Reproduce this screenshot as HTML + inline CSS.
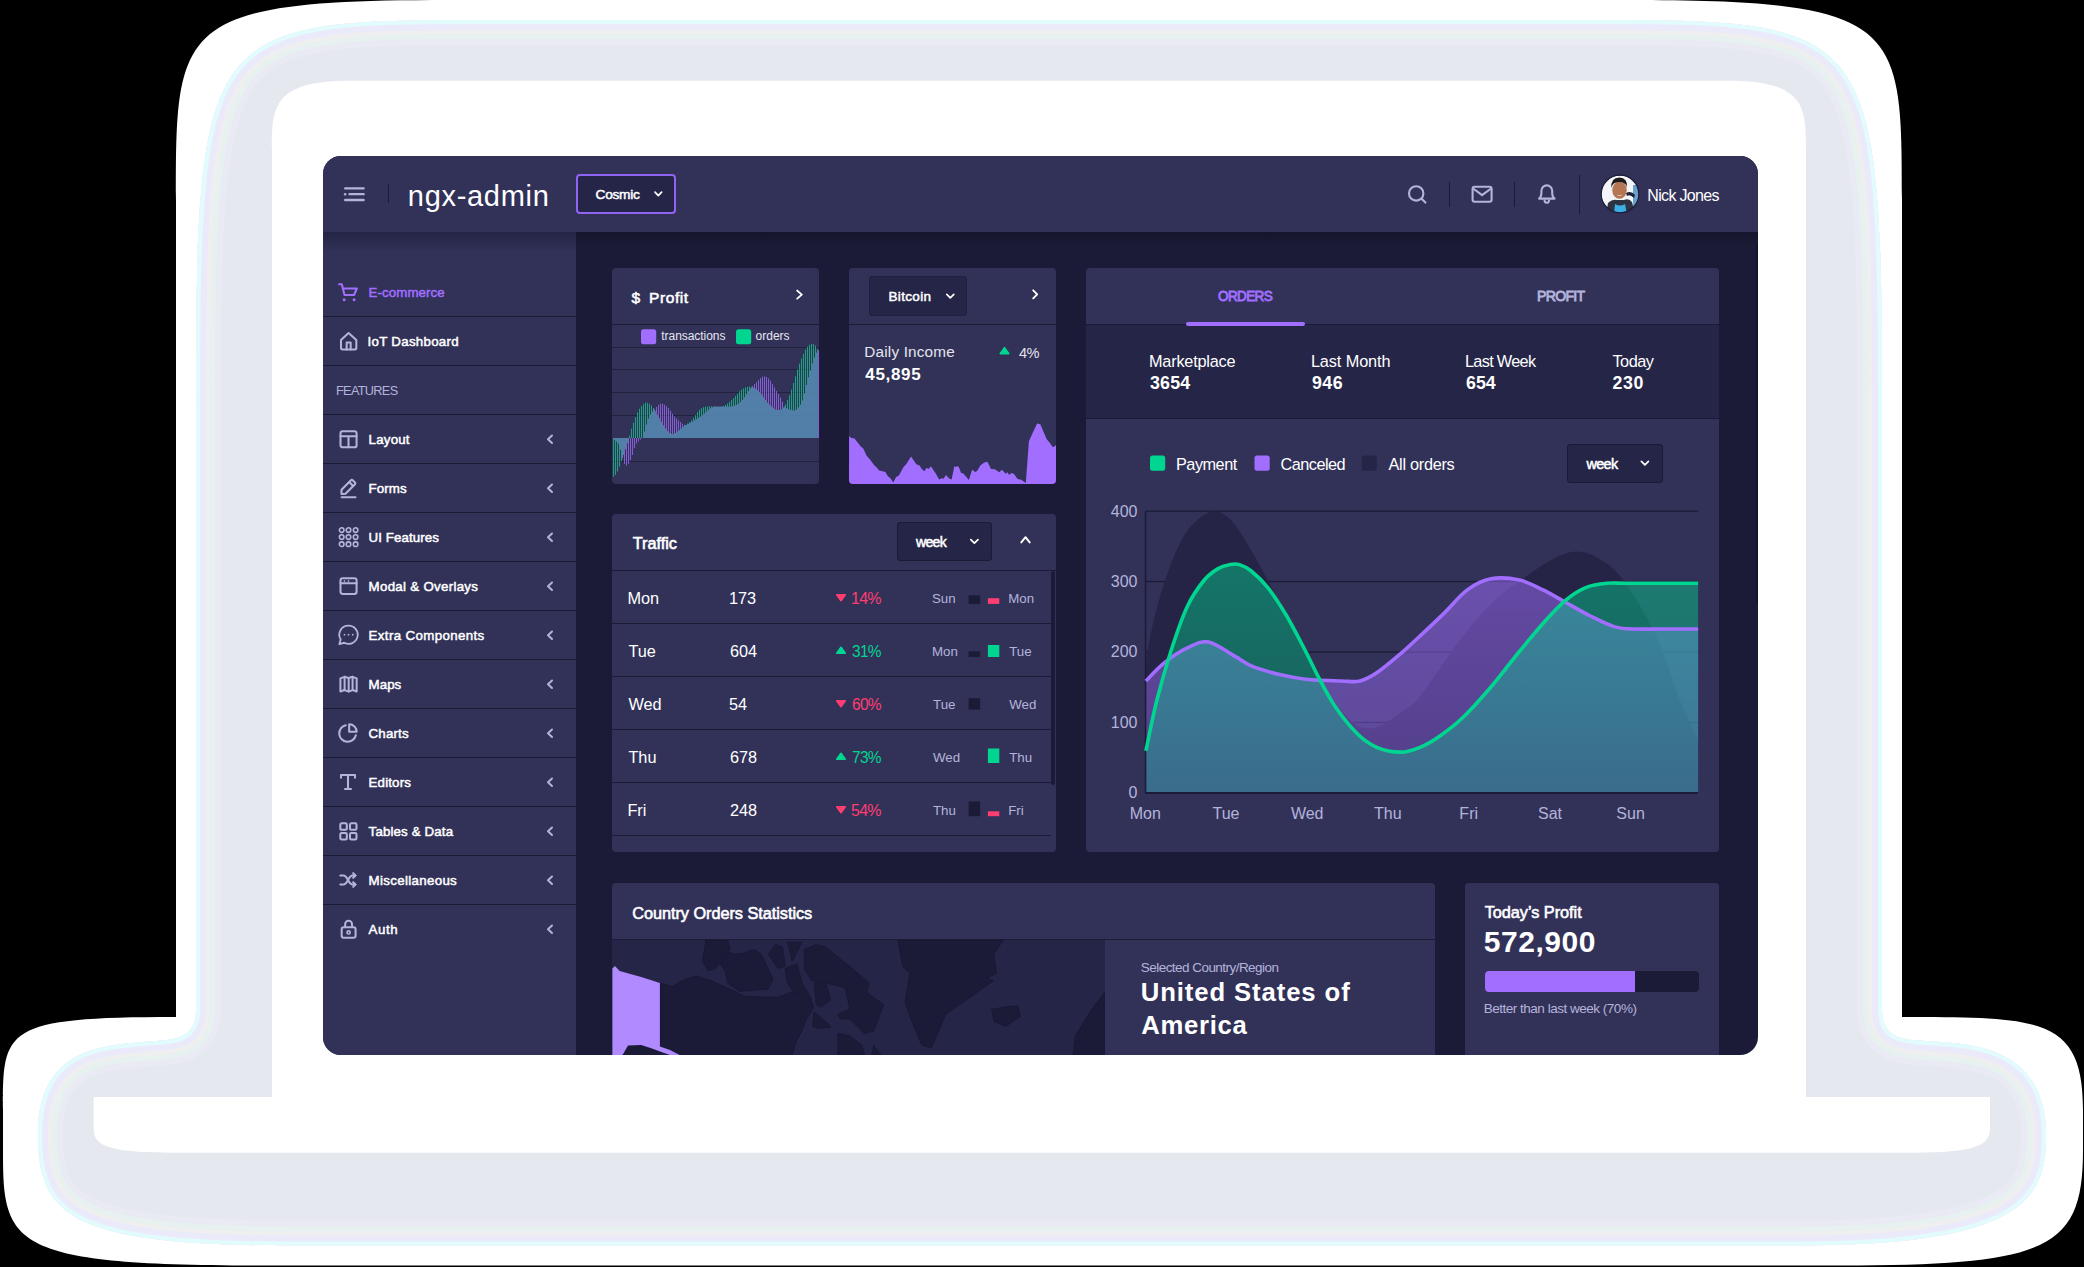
<!DOCTYPE html><html><head><meta charset="utf-8"><style>
html,body{margin:0;padding:0;width:2084px;height:1267px;overflow:hidden;background:#000;}
body{position:relative;font-family:"Liberation Sans",sans-serif;}
#scr{position:absolute;left:0;top:0;width:2084px;height:1267px;clip-path:inset(156px 326px 212px 323px round 18px);background:#1b1b38;}
#scr div,#scr span,#scr svg{position:absolute;}
.t{white-space:nowrap;line-height:1;}
</style></head><body>
<svg width="2084" height="1267" viewBox="0 0 2084 1267" style="position:absolute;left:0;top:0">
<defs><clipPath id="gc"><path d="M 196 1017 L 196 420 C 196 28 201.7 20 480 20 L 1598.0 20 C 1876.3 20 1882 28 1882 420 L 1882 1010 C 1882 1041 1909.2 1039.7 1925 1041 C 1962 1044 2046 1041 2046 1135 C 2046 1193.5 2031.2 1245.4 1800 1245.4 L 290 1245.4 C 73.3 1245.4 38 1216.7 38 1135 C 38 1047.1 102.5 1045.3 150 1041.5 C 174.6 1039.5 196 1039.3 196 1010 Z"/></clipPath></defs>
<path d="M 176 1017 L 176 200 C 176 24 176 0 450 0 L 1628.0 0 C 1902.0 0 1902 24 1902 200 L 1902 1017 C 2040 1017 2083 1017 2083 1110 L 2083 1150 C 2083 1249.3 2049 1265.5 1840 1265.5 L 260 1265.5 C 8.1 1265.5 3 1243.6 3 1150 L 3 1110 C 3 1029.1 3 1017 176 1017 Z" fill="#fff"/>
<g clip-path="url(#gc)"><path d="M 196 1017 L 196 420 C 196 28 201.7 20 480 20 L 1598.0 20 C 1876.3 20 1882 28 1882 420 L 1882 1010 C 1882 1041 1909.2 1039.7 1925 1041 C 1962 1044 2046 1041 2046 1135 C 2046 1193.5 2031.2 1245.4 1800 1245.4 L 290 1245.4 C 73.3 1245.4 38 1216.7 38 1135 C 38 1047.1 102.5 1045.3 150 1041.5 C 174.6 1039.5 196 1039.3 196 1010 Z" fill="#e5e8ef"/>
<path d="M 196 1017 L 196 420 C 196 28 201.7 20 480 20 L 1598.0 20 C 1876.3 20 1882 28 1882 420 L 1882 1010 C 1882 1041 1909.2 1039.7 1925 1041 C 1962 1044 2046 1041 2046 1135 C 2046 1193.5 2031.2 1245.4 1800 1245.4 L 290 1245.4 C 73.3 1245.4 38 1216.7 38 1135 C 38 1047.1 102.5 1045.3 150 1041.5 C 174.6 1039.5 196 1039.3 196 1010 Z" fill="none" stroke="#e9eaf3" stroke-width="50"/>
<path d="M 196 1017 L 196 420 C 196 28 201.7 20 480 20 L 1598.0 20 C 1876.3 20 1882 28 1882 420 L 1882 1010 C 1882 1041 1909.2 1039.7 1925 1041 C 1962 1044 2046 1041 2046 1135 C 2046 1193.5 2031.2 1245.4 1800 1245.4 L 290 1245.4 C 73.3 1245.4 38 1216.7 38 1135 C 38 1047.1 102.5 1045.3 150 1041.5 C 174.6 1039.5 196 1039.3 196 1010 Z" fill="none" stroke="#e6f1f0" stroke-width="38"/>
<path d="M 196 1017 L 196 420 C 196 28 201.7 20 480 20 L 1598.0 20 C 1876.3 20 1882 28 1882 420 L 1882 1010 C 1882 1041 1909.2 1039.7 1925 1041 C 1962 1044 2046 1041 2046 1135 C 2046 1193.5 2031.2 1245.4 1800 1245.4 L 290 1245.4 C 73.3 1245.4 38 1216.7 38 1135 C 38 1047.1 102.5 1045.3 150 1041.5 C 174.6 1039.5 196 1039.3 196 1010 Z" fill="none" stroke="#efefef" stroke-width="28"/>
<path d="M 196 1017 L 196 420 C 196 28 201.7 20 480 20 L 1598.0 20 C 1876.3 20 1882 28 1882 420 L 1882 1010 C 1882 1041 1909.2 1039.7 1925 1041 C 1962 1044 2046 1041 2046 1135 C 2046 1193.5 2031.2 1245.4 1800 1245.4 L 290 1245.4 C 73.3 1245.4 38 1216.7 38 1135 C 38 1047.1 102.5 1045.3 150 1041.5 C 174.6 1039.5 196 1039.3 196 1010 Z" fill="none" stroke="#ebeafb" stroke-width="20"/>
<path d="M 196 1017 L 196 420 C 196 28 201.7 20 480 20 L 1598.0 20 C 1876.3 20 1882 28 1882 420 L 1882 1010 C 1882 1041 1909.2 1039.7 1925 1041 C 1962 1044 2046 1041 2046 1135 C 2046 1193.5 2031.2 1245.4 1800 1245.4 L 290 1245.4 C 73.3 1245.4 38 1216.7 38 1135 C 38 1047.1 102.5 1045.3 150 1041.5 C 174.6 1039.5 196 1039.3 196 1010 Z" fill="none" stroke="#e2fcfd" stroke-width="8"/>
</g>
<path d="M 272 1097 L 272 150 C 272 107.1 272.8 80.8 350 80.8 L 1728.0 80.8 C 1805.2 80.8 1806 107.1 1806 150 L 1806 1097 L 1990 1097 L 1990 1128 C 1990 1146 1975 1152.7 1910 1152.7 L 175 1152.7 C 108 1152.7 93.7 1146 93.7 1128 L 93.7 1097 Z" fill="#fff"/>
</svg>
<div id="scr">
<div style="left:323.0px;top:156.0px;width:1435.0px;height:76.0px;background:#323259;"></div>
<div style="left:323.0px;top:232.0px;width:253.0px;height:823.0px;background:#323259;"></div>
<div style="left:323.0px;top:232.0px;width:253.0px;height:20.0px;background:linear-gradient(#1f1f3f,rgba(50,50,89,0));opacity:0.75;"></div>
<div style="left:576.0px;top:232.0px;width:1182.0px;height:15.0px;background:linear-gradient(rgba(16,16,36,0.55),rgba(27,27,56,0));"></div>
<div style="left:1755.8px;top:244.0px;width:2.2px;height:360.0px;background:#14142c;border-radius:1px;"></div>
<div style="left:323.0px;top:316.0px;width:253.0px;height:1.3px;background:#1b1b38;"></div>
<div style="left:323.0px;top:365.0px;width:253.0px;height:1.3px;background:#1b1b38;"></div>
<div style="left:323.0px;top:414.0px;width:253.0px;height:1.3px;background:#1b1b38;"></div>
<div style="left:323.0px;top:463.0px;width:253.0px;height:1.3px;background:#1b1b38;"></div>
<div style="left:323.0px;top:512.0px;width:253.0px;height:1.3px;background:#1b1b38;"></div>
<div style="left:323.0px;top:561.0px;width:253.0px;height:1.3px;background:#1b1b38;"></div>
<div style="left:323.0px;top:610.0px;width:253.0px;height:1.3px;background:#1b1b38;"></div>
<div style="left:323.0px;top:659.0px;width:253.0px;height:1.3px;background:#1b1b38;"></div>
<div style="left:323.0px;top:708.0px;width:253.0px;height:1.3px;background:#1b1b38;"></div>
<div style="left:323.0px;top:757.0px;width:253.0px;height:1.3px;background:#1b1b38;"></div>
<div style="left:323.0px;top:806.0px;width:253.0px;height:1.3px;background:#1b1b38;"></div>
<div style="left:323.0px;top:855.0px;width:253.0px;height:1.3px;background:#1b1b38;"></div>
<div style="left:323.0px;top:904.0px;width:253.0px;height:1.3px;background:#1b1b38;"></div>
<div style="left:388.2px;top:184.0px;width:1.2px;height:19.0px;background:#1b1b38;"></div>
<div style="left:1449.0px;top:181.5px;width:1.2px;height:25.0px;background:#1b1b38;"></div>
<div style="left:1514.0px;top:181.5px;width:1.2px;height:25.0px;background:#1b1b38;"></div>
<div style="left:1579.0px;top:174.5px;width:1.2px;height:39.0px;background:#1b1b38;"></div>
<div style="left:576px;top:174px;width:96px;height:36px;border:2px solid #8f64f5;border-radius:4px;background:#252547;"></div>
<div style="left:612.0px;top:268.0px;width:207.0px;height:216.0px;background:#323259;border-radius:4px;"></div>
<div style="left:849.0px;top:268.0px;width:207.0px;height:216.0px;background:#323259;border-radius:4px;"></div>
<div style="left:1086.0px;top:268.0px;width:633.0px;height:584.0px;background:#323259;border-radius:4px;"></div>
<div style="left:612.0px;top:514.0px;width:444.0px;height:338.0px;background:#323259;border-radius:4px;"></div>
<div style="left:612.0px;top:883.0px;width:823.0px;height:197.0px;background:#323259;border-radius:4px;"></div>
<div style="left:1465.0px;top:883.0px;width:254.0px;height:197.0px;background:#323259;border-radius:4px;"></div>
<div style="left:612.0px;top:324.2px;width:207.0px;height:1.3px;background:#1b1b38;"></div>
<div style="left:849.0px;top:324.2px;width:207.0px;height:1.3px;background:#1b1b38;"></div>
<div style="left:612.0px;top:570.0px;width:444.0px;height:1.3px;background:#1b1b38;"></div>
<div style="left:612.0px;top:938.7px;width:823.0px;height:1.3px;background:#1b1b38;"></div>
<div style="left:1086.0px;top:325.0px;width:633.0px;height:93.0px;background:#252547;"></div>
<div style="left:1086.0px;top:417.5px;width:633.0px;height:1.5px;background:#1b1b38;"></div>
<div style="left:1086.0px;top:324.3px;width:633.0px;height:1.2px;background:#1b1b38;"></div>
<div style="left:1186.0px;top:321.5px;width:119.0px;height:4.5px;background:#a16eff;border-radius:2px;"></div>
<div style="left:869.0px;top:276.0px;width:98.0px;height:40.0px;background:#252547;border-radius:4px;box-shadow:inset 0 0 0 1px #1f1f3e;"></div>
<div style="left:1567.0px;top:443.5px;width:96.0px;height:39.5px;background:#252547;border-radius:4px;box-shadow:inset 0 0 0 1px #1b1b38;"></div>
<div style="left:896.5px;top:522.0px;width:95.0px;height:39.3px;background:#252547;border-radius:4px;box-shadow:inset 0 0 0 1px #1b1b38;"></div>
<div style="left:612.0px;top:622.7px;width:439.0px;height:1.3px;background:#1b1b38;"></div>
<div style="left:612.0px;top:675.7px;width:439.0px;height:1.3px;background:#1b1b38;"></div>
<div style="left:612.0px;top:728.7px;width:439.0px;height:1.3px;background:#1b1b38;"></div>
<div style="left:612.0px;top:781.7px;width:439.0px;height:1.3px;background:#1b1b38;"></div>
<div style="left:612.0px;top:834.7px;width:439.0px;height:1.3px;background:#1b1b38;"></div>
<div style="left:1051.3px;top:571.0px;width:4.2px;height:214.0px;background:#1b1b38;border-radius:2px;"></div>
<div style="left:612.0px;top:940.0px;width:493.0px;height:115.0px;background:#252547;"></div>
<div style="left:1485.0px;top:970.7px;width:213.5px;height:21.8px;background:#1b1b38;border-radius:4px;"></div>
<div style="left:1485.0px;top:970.7px;width:149.5px;height:21.8px;background:#a16eff;border-radius:4px 0 0 4px;"></div>
<svg style="left:0;top:0" width="2084" height="1267"><rect x="612" y="347.0" width="207" height="1" fill="#22223f"/><rect x="612" y="369.0" width="207" height="1" fill="#22223f"/><rect x="612" y="392.0" width="207" height="1" fill="#22223f"/><rect x="612" y="415.0" width="207" height="1" fill="#22223f"/><rect x="612" y="461.0" width="207" height="1" fill="#22223f"/></svg>
<svg style="left:0;top:0" width="2084" height="1267"><g opacity="0.85"><rect x="613" y="438.0" width="1.05" height="38.7" fill="#1fb488"/><rect x="614" y="438.0" width="1.05" height="1.8" fill="#9066e6"/><rect x="615" y="438.0" width="1.05" height="36.7" fill="#1fb488"/><rect x="616" y="438.0" width="1.05" height="3.4" fill="#9066e6"/><rect x="617" y="438.0" width="1.05" height="33.5" fill="#1fb488"/><rect x="618" y="438.0" width="1.05" height="5.7" fill="#9066e6"/><rect x="619" y="438.0" width="1.05" height="28.8" fill="#1fb488"/><rect x="620" y="438.0" width="1.05" height="11.7" fill="#9066e6"/><rect x="621" y="438.0" width="1.05" height="23.2" fill="#1fb488"/><rect x="622" y="438.0" width="1.05" height="20.2" fill="#9066e6"/><rect x="623" y="438.0" width="1.05" height="17.0" fill="#1fb488"/><rect x="624" y="438.0" width="1.05" height="25.9" fill="#9066e6"/><rect x="625" y="438.0" width="1.05" height="11.1" fill="#1fb488"/><rect x="626" y="438.0" width="1.05" height="27.6" fill="#9066e6"/><rect x="627" y="438.0" width="1.05" height="5.1" fill="#1fb488"/><rect x="628" y="438.0" width="1.05" height="25.8" fill="#9066e6"/><rect x="629" y="435.6" width="1.05" height="2.4" fill="#1fb488"/><rect x="630" y="438.0" width="1.05" height="22.1" fill="#9066e6"/><rect x="631" y="428.7" width="1.05" height="9.3" fill="#1fb488"/><rect x="632" y="438.0" width="1.05" height="16.9" fill="#9066e6"/><rect x="633" y="422.7" width="1.05" height="15.3" fill="#1fb488"/><rect x="634" y="438.0" width="1.05" height="10.2" fill="#9066e6"/><rect x="635" y="417.3" width="1.05" height="20.7" fill="#1fb488"/><rect x="636" y="438.0" width="1.05" height="5.6" fill="#9066e6"/><rect x="637" y="412.5" width="1.05" height="25.5" fill="#1fb488"/><rect x="638" y="438.0" width="1.05" height="3.4" fill="#9066e6"/><rect x="639" y="408.8" width="1.05" height="29.2" fill="#1fb488"/><rect x="640" y="438.0" width="1.05" height="1.6" fill="#9066e6"/><rect x="641" y="406.1" width="1.05" height="31.9" fill="#1fb488"/><rect x="642" y="437.7" width="1.05" height="0.3" fill="#9066e6"/><rect x="643" y="404.1" width="1.05" height="33.9" fill="#1fb488"/><rect x="644" y="431.6" width="1.05" height="6.4" fill="#9066e6"/><rect x="645" y="402.6" width="1.05" height="35.4" fill="#1fb488"/><rect x="646" y="424.6" width="1.05" height="13.4" fill="#9066e6"/><rect x="647" y="402.7" width="1.05" height="35.3" fill="#1fb488"/><rect x="648" y="418.6" width="1.05" height="19.4" fill="#9066e6"/><rect x="649" y="403.7" width="1.05" height="34.3" fill="#1fb488"/><rect x="650" y="414.5" width="1.05" height="23.5" fill="#9066e6"/><rect x="651" y="405.5" width="1.05" height="32.5" fill="#1fb488"/><rect x="652" y="411.6" width="1.05" height="26.4" fill="#9066e6"/><rect x="653" y="408.1" width="1.05" height="29.9" fill="#1fb488"/><rect x="654" y="409.2" width="1.05" height="28.8" fill="#9066e6"/><rect x="655" y="411.3" width="1.05" height="26.7" fill="#1fb488"/><rect x="656" y="407.0" width="1.05" height="31.0" fill="#9066e6"/><rect x="657" y="414.8" width="1.05" height="23.2" fill="#1fb488"/><rect x="658" y="404.8" width="1.05" height="33.2" fill="#9066e6"/><rect x="659" y="418.4" width="1.05" height="19.6" fill="#1fb488"/><rect x="660" y="403.7" width="1.05" height="34.3" fill="#9066e6"/><rect x="661" y="421.9" width="1.05" height="16.1" fill="#1fb488"/><rect x="662" y="403.8" width="1.05" height="34.2" fill="#9066e6"/><rect x="663" y="425.3" width="1.05" height="12.7" fill="#1fb488"/><rect x="664" y="404.7" width="1.05" height="33.3" fill="#9066e6"/><rect x="665" y="428.4" width="1.05" height="9.6" fill="#1fb488"/><rect x="666" y="406.2" width="1.05" height="31.8" fill="#9066e6"/><rect x="667" y="430.9" width="1.05" height="7.1" fill="#1fb488"/><rect x="668" y="408.1" width="1.05" height="29.9" fill="#9066e6"/><rect x="669" y="432.8" width="1.05" height="5.2" fill="#1fb488"/><rect x="670" y="410.8" width="1.05" height="27.2" fill="#9066e6"/><rect x="671" y="433.8" width="1.05" height="4.2" fill="#1fb488"/><rect x="672" y="413.8" width="1.05" height="24.2" fill="#9066e6"/><rect x="673" y="433.9" width="1.05" height="4.1" fill="#1fb488"/><rect x="674" y="416.4" width="1.05" height="21.6" fill="#9066e6"/><rect x="675" y="433.0" width="1.05" height="5.0" fill="#1fb488"/><rect x="676" y="418.5" width="1.05" height="19.5" fill="#9066e6"/><rect x="677" y="431.5" width="1.05" height="6.5" fill="#1fb488"/><rect x="678" y="420.3" width="1.05" height="17.7" fill="#9066e6"/><rect x="679" y="430.1" width="1.05" height="7.9" fill="#1fb488"/><rect x="680" y="422.0" width="1.05" height="16.0" fill="#9066e6"/><rect x="681" y="428.5" width="1.05" height="9.5" fill="#1fb488"/><rect x="682" y="423.7" width="1.05" height="14.3" fill="#9066e6"/><rect x="683" y="426.7" width="1.05" height="11.3" fill="#1fb488"/><rect x="684" y="424.9" width="1.05" height="13.1" fill="#9066e6"/><rect x="685" y="425.0" width="1.05" height="13.0" fill="#1fb488"/><rect x="686" y="424.8" width="1.05" height="13.2" fill="#9066e6"/><rect x="687" y="423.5" width="1.05" height="14.5" fill="#1fb488"/><rect x="688" y="423.9" width="1.05" height="14.1" fill="#9066e6"/><rect x="689" y="422.0" width="1.05" height="16.0" fill="#1fb488"/><rect x="690" y="422.7" width="1.05" height="15.3" fill="#9066e6"/><rect x="691" y="420.2" width="1.05" height="17.8" fill="#1fb488"/><rect x="692" y="421.6" width="1.05" height="16.4" fill="#9066e6"/><rect x="693" y="417.9" width="1.05" height="20.1" fill="#1fb488"/><rect x="694" y="420.4" width="1.05" height="17.6" fill="#9066e6"/><rect x="695" y="415.1" width="1.05" height="22.9" fill="#1fb488"/><rect x="696" y="419.2" width="1.05" height="18.8" fill="#9066e6"/><rect x="697" y="412.3" width="1.05" height="25.7" fill="#1fb488"/><rect x="698" y="418.0" width="1.05" height="20.0" fill="#9066e6"/><rect x="699" y="409.8" width="1.05" height="28.2" fill="#1fb488"/><rect x="700" y="416.6" width="1.05" height="21.4" fill="#9066e6"/><rect x="701" y="408.1" width="1.05" height="29.9" fill="#1fb488"/><rect x="702" y="415.0" width="1.05" height="23.0" fill="#9066e6"/><rect x="703" y="407.2" width="1.05" height="30.8" fill="#1fb488"/><rect x="704" y="413.3" width="1.05" height="24.7" fill="#9066e6"/><rect x="705" y="406.7" width="1.05" height="31.3" fill="#1fb488"/><rect x="706" y="411.5" width="1.05" height="26.5" fill="#9066e6"/><rect x="707" y="406.5" width="1.05" height="31.5" fill="#1fb488"/><rect x="708" y="409.8" width="1.05" height="28.2" fill="#9066e6"/><rect x="709" y="406.3" width="1.05" height="31.7" fill="#1fb488"/><rect x="710" y="408.3" width="1.05" height="29.7" fill="#9066e6"/><rect x="711" y="406.2" width="1.05" height="31.8" fill="#1fb488"/><rect x="712" y="407.2" width="1.05" height="30.8" fill="#9066e6"/><rect x="713" y="406.5" width="1.05" height="31.5" fill="#1fb488"/><rect x="714" y="406.5" width="1.05" height="31.5" fill="#9066e6"/><rect x="715" y="406.6" width="1.05" height="31.4" fill="#1fb488"/><rect x="716" y="406.4" width="1.05" height="31.6" fill="#9066e6"/><rect x="717" y="406.6" width="1.05" height="31.4" fill="#1fb488"/><rect x="718" y="406.5" width="1.05" height="31.5" fill="#9066e6"/><rect x="719" y="406.6" width="1.05" height="31.4" fill="#1fb488"/><rect x="720" y="406.5" width="1.05" height="31.5" fill="#9066e6"/><rect x="721" y="406.4" width="1.05" height="31.6" fill="#1fb488"/><rect x="722" y="406.5" width="1.05" height="31.5" fill="#9066e6"/><rect x="723" y="406.0" width="1.05" height="32.0" fill="#1fb488"/><rect x="724" y="406.5" width="1.05" height="31.5" fill="#9066e6"/><rect x="725" y="405.0" width="1.05" height="33.0" fill="#1fb488"/><rect x="726" y="406.6" width="1.05" height="31.4" fill="#9066e6"/><rect x="727" y="403.6" width="1.05" height="34.4" fill="#1fb488"/><rect x="728" y="406.6" width="1.05" height="31.4" fill="#9066e6"/><rect x="729" y="401.9" width="1.05" height="36.1" fill="#1fb488"/><rect x="730" y="406.6" width="1.05" height="31.4" fill="#9066e6"/><rect x="731" y="400.1" width="1.05" height="37.9" fill="#1fb488"/><rect x="732" y="406.3" width="1.05" height="31.7" fill="#9066e6"/><rect x="733" y="398.2" width="1.05" height="39.8" fill="#1fb488"/><rect x="734" y="405.7" width="1.05" height="32.3" fill="#9066e6"/><rect x="735" y="396.0" width="1.05" height="42.0" fill="#1fb488"/><rect x="736" y="404.9" width="1.05" height="33.1" fill="#9066e6"/><rect x="737" y="393.7" width="1.05" height="44.3" fill="#1fb488"/><rect x="738" y="403.6" width="1.05" height="34.4" fill="#9066e6"/><rect x="739" y="391.4" width="1.05" height="46.6" fill="#1fb488"/><rect x="740" y="402.0" width="1.05" height="36.0" fill="#9066e6"/><rect x="741" y="389.7" width="1.05" height="48.3" fill="#1fb488"/><rect x="742" y="399.9" width="1.05" height="38.1" fill="#9066e6"/><rect x="743" y="388.4" width="1.05" height="49.6" fill="#1fb488"/><rect x="744" y="397.2" width="1.05" height="40.8" fill="#9066e6"/><rect x="745" y="387.4" width="1.05" height="50.6" fill="#1fb488"/><rect x="746" y="394.2" width="1.05" height="43.8" fill="#9066e6"/><rect x="747" y="386.8" width="1.05" height="51.2" fill="#1fb488"/><rect x="748" y="391.2" width="1.05" height="46.8" fill="#9066e6"/><rect x="749" y="386.6" width="1.05" height="51.4" fill="#1fb488"/><rect x="750" y="388.4" width="1.05" height="49.6" fill="#9066e6"/><rect x="751" y="386.8" width="1.05" height="51.2" fill="#1fb488"/><rect x="752" y="386.1" width="1.05" height="51.9" fill="#9066e6"/><rect x="753" y="387.6" width="1.05" height="50.4" fill="#1fb488"/><rect x="754" y="384.0" width="1.05" height="54.0" fill="#9066e6"/><rect x="755" y="388.7" width="1.05" height="49.3" fill="#1fb488"/><rect x="756" y="382.1" width="1.05" height="55.9" fill="#9066e6"/><rect x="757" y="390.2" width="1.05" height="47.8" fill="#1fb488"/><rect x="758" y="380.1" width="1.05" height="57.9" fill="#9066e6"/><rect x="759" y="392.0" width="1.05" height="46.0" fill="#1fb488"/><rect x="760" y="378.1" width="1.05" height="59.9" fill="#9066e6"/><rect x="761" y="394.4" width="1.05" height="43.6" fill="#1fb488"/><rect x="762" y="376.7" width="1.05" height="61.3" fill="#9066e6"/><rect x="763" y="397.3" width="1.05" height="40.7" fill="#1fb488"/><rect x="764" y="376.4" width="1.05" height="61.6" fill="#9066e6"/><rect x="765" y="400.1" width="1.05" height="37.9" fill="#1fb488"/><rect x="766" y="377.0" width="1.05" height="61.0" fill="#9066e6"/><rect x="767" y="402.6" width="1.05" height="35.4" fill="#1fb488"/><rect x="768" y="378.5" width="1.05" height="59.5" fill="#9066e6"/><rect x="769" y="404.6" width="1.05" height="33.4" fill="#1fb488"/><rect x="770" y="380.8" width="1.05" height="57.2" fill="#9066e6"/><rect x="771" y="406.5" width="1.05" height="31.5" fill="#1fb488"/><rect x="772" y="384.0" width="1.05" height="54.0" fill="#9066e6"/><rect x="773" y="408.2" width="1.05" height="29.8" fill="#1fb488"/><rect x="774" y="387.5" width="1.05" height="50.5" fill="#9066e6"/><rect x="775" y="409.4" width="1.05" height="28.6" fill="#1fb488"/><rect x="776" y="390.9" width="1.05" height="47.1" fill="#9066e6"/><rect x="777" y="410.0" width="1.05" height="28.0" fill="#1fb488"/><rect x="778" y="394.1" width="1.05" height="43.9" fill="#9066e6"/><rect x="779" y="410.1" width="1.05" height="27.9" fill="#1fb488"/><rect x="780" y="397.4" width="1.05" height="40.6" fill="#9066e6"/><rect x="781" y="409.3" width="1.05" height="28.7" fill="#1fb488"/><rect x="782" y="401.8" width="1.05" height="36.2" fill="#9066e6"/><rect x="783" y="407.6" width="1.05" height="30.4" fill="#1fb488"/><rect x="784" y="406.6" width="1.05" height="31.4" fill="#9066e6"/><rect x="785" y="404.4" width="1.05" height="33.6" fill="#1fb488"/><rect x="786" y="408.1" width="1.05" height="29.9" fill="#9066e6"/><rect x="787" y="400.1" width="1.05" height="37.9" fill="#1fb488"/><rect x="788" y="409.1" width="1.05" height="28.9" fill="#9066e6"/><rect x="789" y="395.3" width="1.05" height="42.7" fill="#1fb488"/><rect x="790" y="409.8" width="1.05" height="28.2" fill="#9066e6"/><rect x="791" y="389.6" width="1.05" height="48.4" fill="#1fb488"/><rect x="792" y="410.3" width="1.05" height="27.7" fill="#9066e6"/><rect x="793" y="383.0" width="1.05" height="55.0" fill="#1fb488"/><rect x="794" y="410.6" width="1.05" height="27.4" fill="#9066e6"/><rect x="795" y="376.3" width="1.05" height="61.7" fill="#1fb488"/><rect x="796" y="409.5" width="1.05" height="28.5" fill="#9066e6"/><rect x="797" y="369.5" width="1.05" height="68.5" fill="#1fb488"/><rect x="798" y="407.3" width="1.05" height="30.7" fill="#9066e6"/><rect x="799" y="363.7" width="1.05" height="74.3" fill="#1fb488"/><rect x="800" y="404.7" width="1.05" height="33.3" fill="#9066e6"/><rect x="801" y="358.6" width="1.05" height="79.4" fill="#1fb488"/><rect x="802" y="400.4" width="1.05" height="37.6" fill="#9066e6"/><rect x="803" y="353.9" width="1.05" height="84.1" fill="#1fb488"/><rect x="804" y="393.3" width="1.05" height="44.7" fill="#9066e6"/><rect x="805" y="349.8" width="1.05" height="88.2" fill="#1fb488"/><rect x="806" y="385.0" width="1.05" height="53.0" fill="#9066e6"/><rect x="807" y="346.8" width="1.05" height="91.2" fill="#1fb488"/><rect x="808" y="377.3" width="1.05" height="60.7" fill="#9066e6"/><rect x="809" y="344.9" width="1.05" height="93.1" fill="#1fb488"/><rect x="810" y="370.2" width="1.05" height="67.8" fill="#9066e6"/><rect x="811" y="344.0" width="1.05" height="94.0" fill="#1fb488"/><rect x="812" y="363.4" width="1.05" height="74.6" fill="#9066e6"/><rect x="813" y="344.1" width="1.05" height="93.9" fill="#1fb488"/><rect x="814" y="357.6" width="1.05" height="80.4" fill="#9066e6"/><rect x="815" y="345.6" width="1.05" height="92.4" fill="#1fb488"/><rect x="816" y="352.6" width="1.05" height="85.4" fill="#9066e6"/><rect x="817" y="349.3" width="1.05" height="88.7" fill="#1fb488"/><rect x="818" y="350.1" width="1.05" height="87.9" fill="#9066e6"/></g></svg>
<svg style="left:0;top:0" width="2084" height="1267"><defs><clipPath id="bcc"><rect x="849" y="268" width="207" height="216" rx="4"/></clipPath></defs><path d="M849 484 L849.1 435.9 L851.3 438.1 L854.5 438.4 L860.8 446.6 L863.3 448.5 L866.5 455.5 L870.3 459.9 L874.0 464.9 L877.2 468.1 L879.1 470.6 L883.5 471.6 L885.4 471.9 L887.9 476.3 L890.5 478.2 L893.3 482.6 L896.1 476.9 L898.7 475.7 L903.7 466.8 L906.2 464.3 L911.0 456.4 L916.3 464.3 L919.5 465.6 L922.0 469.3 L924.5 471.2 L926.4 468.1 L929.0 468.7 L930.9 466.2 L933.4 470.0 L935.9 473.8 L939.1 479.4 L941.6 478.2 L943.5 478.8 L946.0 475.0 L949.2 478.5 L951.6 479.4 L954.4 465.9 L955.7 467.1 L957.6 466.2 L958.8 467.1 L961.0 472.8 L963.6 473.8 L968.9 480.1 L972.1 469.7 L975.3 471.9 L977.1 470.9 L980.3 465.6 L983.5 463.0 L986.3 461.8 L987.9 462.4 L991.0 469.0 L994.8 469.3 L999.2 472.2 L1002.1 469.7 L1005.6 473.8 L1007.4 472.2 L1009.3 475.0 L1011.2 473.1 L1013.8 473.8 L1017.6 479.1 L1021.3 479.8 L1025.8 482.9 L1028.9 441.6 L1030.8 437.1 L1037.1 423.6 L1040.3 424.2 L1046.6 439.0 L1049.7 442.8 L1052.9 447.2 L1055.4 445.7 L1056.0 445.0 L1056 484 Z" fill="#a16eff" clip-path="url(#bcc)"/></svg>
<svg style="left:0;top:0" width="2084" height="1267">
<defs><linearGradient id="gp" x1="0" y1="560" x2="0" y2="793" gradientUnits="userSpaceOnUse"><stop offset="0" stop-color="#a16eff" stop-opacity="0.52"/><stop offset="1" stop-color="#a16eff" stop-opacity="0.36"/></linearGradient><linearGradient id="gg" x1="0" y1="560" x2="0" y2="793" gradientUnits="userSpaceOnUse"><stop offset="0" stop-color="#00d68f" stop-opacity="0.46"/><stop offset="1" stop-color="#00d68f" stop-opacity="0.3"/></linearGradient></defs>
<rect x="1146" y="510.5" width="552" height="1.3" fill="#1b1b38"/>
<rect x="1146" y="580.9" width="552" height="1.3" fill="#1b1b38"/>
<rect x="1146" y="651.4" width="552" height="1.3" fill="#1b1b38"/>
<rect x="1146" y="721.8" width="552" height="1.3" fill="#1b1b38"/>
<path d="M 1145.9 661.0 C 1147.3 653.9 1150.5 633.3 1154.2 618.3 C 1158.0 603.3 1162.9 585.6 1168.4 571.0 C 1173.9 556.4 1180.2 540.7 1187.3 530.8 C 1194.4 520.9 1203.9 513.8 1211.0 511.8 C 1218.1 509.8 1224.0 513.8 1229.9 518.9 C 1235.8 524.0 1240.2 532.3 1246.5 542.6 C 1252.8 552.9 1261.5 568.7 1267.8 580.5 C 1274.1 592.3 1275.7 597.0 1284.4 613.6 C 1293.1 630.2 1308.6 661.9 1320.0 680.0 C 1331.4 698.1 1343.5 714.6 1353.0 722.5 C 1362.5 730.4 1368.9 728.8 1376.7 727.2 C 1384.5 725.6 1392.8 718.1 1400.0 713.0 C 1407.2 707.9 1410.0 708.6 1420.0 696.4 C 1430.0 684.2 1447.5 656.1 1460.0 640.0 C 1472.5 623.9 1484.3 610.3 1495.0 600.0 C 1505.7 589.7 1514.9 584.7 1524.1 578.1 C 1533.3 571.5 1541.5 564.8 1550.2 560.4 C 1558.9 556.0 1567.9 551.8 1576.2 551.6 C 1584.5 551.4 1592.0 554.4 1599.9 559.2 C 1607.8 564.0 1614.1 567.5 1623.6 580.5 C 1633.1 593.5 1647.2 617.2 1656.7 637.3 C 1666.2 657.4 1673.5 684.2 1680.4 701.2 C 1687.3 718.2 1695.1 732.7 1698.1 739.0 L1698.1 792.8 L1145.9 792.8 Z" fill="#252446"/>
<path d="M 1145.9 681.0 C 1148.9 678.0 1156.8 668.8 1163.7 663.3 C 1170.6 657.8 1179.8 651.4 1187.3 647.9 C 1194.8 644.4 1200.7 640.6 1208.6 642.0 C 1216.5 643.4 1227.2 652.1 1234.7 656.2 C 1242.2 660.4 1245.7 663.8 1253.6 666.9 C 1261.5 670.0 1273.3 673.0 1282.0 675.1 C 1290.7 677.2 1295.8 678.2 1305.7 679.2 C 1315.6 680.2 1332.1 680.7 1341.2 681.0 C 1350.3 681.3 1354.2 682.4 1360.1 681.0 C 1366.0 679.6 1370.0 677.3 1376.7 672.8 C 1383.4 668.3 1393.2 659.9 1400.4 653.8 C 1407.6 647.7 1412.8 642.7 1420.0 636.0 C 1427.2 629.3 1435.8 621.3 1443.7 613.6 C 1451.6 605.9 1459.4 595.7 1467.3 589.9 C 1475.2 584.1 1482.3 580.4 1491.0 578.8 C 1499.7 577.1 1510.7 578.1 1519.4 580.0 C 1528.1 581.9 1535.2 586.1 1543.1 589.9 C 1551.0 593.7 1558.8 598.6 1566.7 603.0 C 1574.6 607.4 1582.5 612.1 1590.4 616.0 C 1598.3 619.9 1607.0 624.4 1614.1 626.6 C 1621.2 628.8 1625.3 628.6 1633.0 629.0 C 1640.7 629.4 1649.2 629.0 1660.0 629.0 C 1670.8 629.0 1691.8 629.0 1698.1 629.0 L1698.1 792.8 L1145.9 792.8 Z" fill="url(#gp)"/>
<path d="M 1145.9 750.9 C 1147.7 742.6 1152.4 717.8 1156.6 701.2 C 1160.8 684.6 1165.7 667.3 1170.8 651.5 C 1175.9 635.7 1181.8 618.3 1187.3 606.5 C 1192.8 594.7 1198.8 586.8 1203.9 580.5 C 1209.0 574.2 1213.8 571.2 1218.1 568.6 C 1222.4 566.0 1226.4 565.3 1229.9 564.6 C 1233.5 563.9 1235.9 563.5 1239.4 564.6 C 1243.0 565.7 1246.5 567.2 1251.2 571.0 C 1255.9 574.8 1261.9 580.1 1267.8 587.6 C 1273.7 595.1 1280.4 605.4 1286.7 616.0 C 1293.0 626.6 1300.2 640.9 1305.7 651.5 C 1311.2 662.1 1314.8 670.4 1319.9 679.9 C 1325.0 689.4 1330.1 699.2 1336.4 708.3 C 1342.7 717.4 1351.1 727.8 1357.8 734.3 C 1364.5 740.8 1369.6 744.3 1376.7 747.3 C 1383.8 750.3 1393.2 752.1 1400.4 752.1 C 1407.6 752.1 1413.6 749.9 1420.0 747.3 C 1426.4 744.7 1431.8 741.6 1438.9 736.7 C 1446.0 731.8 1453.9 726.1 1462.6 717.8 C 1471.3 709.5 1481.5 698.0 1491.0 687.0 C 1500.5 676.0 1510.3 662.5 1519.4 651.5 C 1528.5 640.5 1537.5 629.4 1545.4 620.7 C 1553.3 612.0 1560.0 604.9 1566.7 599.4 C 1573.4 593.9 1579.0 590.3 1585.7 587.6 C 1592.4 584.9 1599.6 584.0 1607.0 583.3 C 1614.4 582.6 1614.8 583.3 1630.0 583.3 C 1645.2 583.3 1686.8 583.3 1698.1 583.3 L1698.1 792.8 L1145.9 792.8 Z" fill="url(#gg)"/>
<rect x="1144.8" y="511" width="1.5" height="282" fill="#1b1b38"/>
<rect x="1145" y="792" width="553" height="2" fill="#1b1b38"/>
<path d="M 1145.9 681.0 C 1148.9 678.0 1156.8 668.8 1163.7 663.3 C 1170.6 657.8 1179.8 651.4 1187.3 647.9 C 1194.8 644.4 1200.7 640.6 1208.6 642.0 C 1216.5 643.4 1227.2 652.1 1234.7 656.2 C 1242.2 660.4 1245.7 663.8 1253.6 666.9 C 1261.5 670.0 1273.3 673.0 1282.0 675.1 C 1290.7 677.2 1295.8 678.2 1305.7 679.2 C 1315.6 680.2 1332.1 680.7 1341.2 681.0 C 1350.3 681.3 1354.2 682.4 1360.1 681.0 C 1366.0 679.6 1370.0 677.3 1376.7 672.8 C 1383.4 668.3 1393.2 659.9 1400.4 653.8 C 1407.6 647.7 1412.8 642.7 1420.0 636.0 C 1427.2 629.3 1435.8 621.3 1443.7 613.6 C 1451.6 605.9 1459.4 595.7 1467.3 589.9 C 1475.2 584.1 1482.3 580.4 1491.0 578.8 C 1499.7 577.1 1510.7 578.1 1519.4 580.0 C 1528.1 581.9 1535.2 586.1 1543.1 589.9 C 1551.0 593.7 1558.8 598.6 1566.7 603.0 C 1574.6 607.4 1582.5 612.1 1590.4 616.0 C 1598.3 619.9 1607.0 624.4 1614.1 626.6 C 1621.2 628.8 1625.3 628.6 1633.0 629.0 C 1640.7 629.4 1649.2 629.0 1660.0 629.0 C 1670.8 629.0 1691.8 629.0 1698.1 629.0" fill="none" stroke="#a16eff" stroke-width="3.6" stroke-linecap="butt"/>
<path d="M 1145.9 750.9 C 1147.7 742.6 1152.4 717.8 1156.6 701.2 C 1160.8 684.6 1165.7 667.3 1170.8 651.5 C 1175.9 635.7 1181.8 618.3 1187.3 606.5 C 1192.8 594.7 1198.8 586.8 1203.9 580.5 C 1209.0 574.2 1213.8 571.2 1218.1 568.6 C 1222.4 566.0 1226.4 565.3 1229.9 564.6 C 1233.5 563.9 1235.9 563.5 1239.4 564.6 C 1243.0 565.7 1246.5 567.2 1251.2 571.0 C 1255.9 574.8 1261.9 580.1 1267.8 587.6 C 1273.7 595.1 1280.4 605.4 1286.7 616.0 C 1293.0 626.6 1300.2 640.9 1305.7 651.5 C 1311.2 662.1 1314.8 670.4 1319.9 679.9 C 1325.0 689.4 1330.1 699.2 1336.4 708.3 C 1342.7 717.4 1351.1 727.8 1357.8 734.3 C 1364.5 740.8 1369.6 744.3 1376.7 747.3 C 1383.8 750.3 1393.2 752.1 1400.4 752.1 C 1407.6 752.1 1413.6 749.9 1420.0 747.3 C 1426.4 744.7 1431.8 741.6 1438.9 736.7 C 1446.0 731.8 1453.9 726.1 1462.6 717.8 C 1471.3 709.5 1481.5 698.0 1491.0 687.0 C 1500.5 676.0 1510.3 662.5 1519.4 651.5 C 1528.5 640.5 1537.5 629.4 1545.4 620.7 C 1553.3 612.0 1560.0 604.9 1566.7 599.4 C 1573.4 593.9 1579.0 590.3 1585.7 587.6 C 1592.4 584.9 1599.6 584.0 1607.0 583.3 C 1614.4 582.6 1614.8 583.3 1630.0 583.3 C 1645.2 583.3 1686.8 583.3 1698.1 583.3" fill="none" stroke="#00d68f" stroke-width="3.6" stroke-linecap="butt"/>
</svg>
<svg style="left:0;top:0" width="2084" height="1267"><defs><clipPath id="mpc"><rect x="612" y="940" width="493" height="115"/></clipPath></defs><g clip-path="url(#mpc)">
<path d="M659.9 983.0 L672.4 986.6 L682.0 980.6 L696.4 975.8 L706.0 979.4 L710.8 980.6 L734.8 991.4 L744.4 996.2 L760.0 997.0 L778.0 997.4 L790.0 992.6 L806.7 990.2 L813.9 1007.0 L806.0 1020.0 L801.9 1031.0 L796.0 1042.0 L792.3 1055.0 L659.9 1055.0 Z" fill="#1b1b38" stroke="#191935" stroke-width="1"/>
<path d="M706.0 939.8 L727.6 939.8 L730.0 949.4 L715.6 968.6 L708.4 971.0 L702.4 961.4 Z" fill="#1b1b38" stroke="#191935" stroke-width="1"/>
<path d="M720.4 963.8 L727.6 951.8 L734.8 954.2 L744.4 953.0 L754.0 949.4 L761.2 954.2 L773.1 979.4 L768.3 989.0 L739.6 991.4 L727.6 983.0 L725.2 971.0 Z" fill="#1b1b38" stroke="#191935" stroke-width="1"/>
<path d="M768.3 954.2 L775.5 944.6 L782.7 947.0 L785.1 966.2 L778.0 968.6 Z" fill="#1b1b38" stroke="#191935" stroke-width="1"/>
<path d="M787.5 942.2 L802.0 942.2 L792.3 961.4 Z" fill="#1b1b38" stroke="#191935" stroke-width="1"/>
<path d="M804.3 949.4 L816.3 944.6 L826.0 947.0 L840.3 959.0 L849.9 966.2 L869.1 983.0 L866.7 992.6 L883.5 1004.6 L873.9 1031.0 L864.3 1033.4 L849.9 1019.0 L840.3 1019.0 L837.9 1014.2 L849.9 1009.4 L845.1 987.8 L826.0 983.0 L811.5 980.6 L804.3 968.6 Z" fill="#1b1b38" stroke="#191935" stroke-width="1"/>
<path d="M785.1 968.6 L797.1 963.8 L802.0 983.0 L809.1 995.0 L811.5 999.8 L806.7 997.4 L792.3 990.2 L787.5 983.0 Z" fill="#1b1b38" stroke="#191935" stroke-width="1"/>
<path d="M814.0 983.0 L826.0 983.0 L830.7 999.8 L821.1 1007.0 L816.3 1004.6 Z" fill="#1b1b38" stroke="#191935" stroke-width="1"/>
<path d="M897.9 939.8 L1003.5 939.8 L993.9 954.2 L996.3 973.4 L986.7 978.2 L993.9 980.6 L969.9 997.4 L945.9 1014.2 L931.5 1047.8 L921.9 1045.4 L909.9 1016.6 L905.1 1002.2 L909.9 973.4 L902.7 966.2 Z" fill="#1b1b38" stroke="#191935" stroke-width="1"/>
<path d="M991.5 1009.4 L1005.0 1007.0 L1017.9 1005.8 L1020.3 1016.6 L1005.9 1026.2 L993.9 1021.4 Z" fill="#1b1b38" stroke="#191935" stroke-width="1"/>
<path d="M1104.2 992.6 L1104.7 1055.0 L1073.0 1055.0 L1075.4 1035.8 L1090.0 1012.0 Z" fill="#1b1b38" stroke="#191935" stroke-width="1"/>
<path d="M837.9 1033.4 L849.9 1035.8 L861.9 1045.4 L864.3 1055.0 L837.9 1055.0 Z" fill="#1b1b38" stroke="#191935" stroke-width="1"/>
<path d="M873.9 1045.4 L881.1 1055.0 L871.5 1055.0 Z" fill="#1b1b38" stroke="#191935" stroke-width="1"/>
<path d="M814.0 1011.8 L828.3 1023.8 L830.7 1027.4 L818.7 1028.6 L812.7 1026.2 Z" fill="#1b1b38" stroke="#191935" stroke-width="1"/>
<path d="M612.4 968.6 L615.0 966.0 L619.6 971.0 L626.8 972.9 L641.2 977.0 L659.9 983.0 L659.9 1046.6 L670.0 1050.0 L679.6 1055.0 L612.4 1055.0 Z" fill="#b18aff"/>
<path d="M623.2 1054.0 L628.0 1045.4 L641.2 1044.9 L652.0 1048.5 L662.8 1052.6 L670.0 1055.0 L622.0 1055.0 Z" fill="#1b1b38"/>
</g></svg>
<svg style="left:337.6px;top:281.8px;overflow:visible" width="20.0" height="20.0" viewBox="0 0 24 24" fill="none" stroke="#a16eff" stroke-width="2.45" stroke-linecap="round" stroke-linejoin="round"><path d="M1.3 2.8H4.6L7.8 15.6H19.2L22.6 7.8H5.9"/><circle cx="7.4" cy="21.4" r="1.8" fill="#a16eff" stroke="none"/><circle cx="19.3" cy="21.4" r="1.8" fill="#a16eff" stroke="none"/></svg>
<svg style="left:337.6px;top:330.8px;overflow:visible" width="20.0" height="20.0" viewBox="0 0 24 24" fill="none" stroke="#b4b4db" stroke-width="2.45" stroke-linecap="round" stroke-linejoin="round"><path d="M3.6 10.8L12.7 2.4L22 10.8V20.4Q22 22.2 20.2 22.2H5.4Q3.6 22.2 3.6 20.4Z"/><path d="M10.4 22.2V13.9H15.2V22.2"/></svg>
<svg style="left:337.6px;top:428.8px;overflow:visible" width="20.0" height="20.0" viewBox="0 0 24 24" fill="none" stroke="#b4b4db" stroke-width="2.45" stroke-linecap="round" stroke-linejoin="round"><rect x="3" y="2.6" width="19.3" height="19.4" rx="2.6"/><path d="M3 8.6H22.3M12.6 8.6V22"/></svg>
<svg style="left:337.6px;top:477.8px;overflow:visible" width="20.0" height="20.0" viewBox="0 0 24 24" fill="none" stroke="#b4b4db" stroke-width="2.45" stroke-linecap="round" stroke-linejoin="round"><path d="M4.4 23H21"/><path d="M4.2 14L15.6 2.6Q16.6 1.6 17.6 2.6L20.4 5.4Q21.4 6.4 20.4 7.4L9 18.8L4.2 19.2Z"/><path d="M13.4 4.8L18.2 9.6"/></svg>
<svg style="left:337.6px;top:526.8px;overflow:visible" width="20.0" height="20.0" viewBox="0 0 24 24" fill="none" stroke="#b4b4db" stroke-width="2.45" stroke-linecap="round" stroke-linejoin="round"><circle cx="4.4" cy="3.7" r="2.75" stroke-width="1.9"/><circle cx="12.6" cy="3.7" r="2.75" stroke-width="1.9"/><circle cx="21.1" cy="3.7" r="2.75" stroke-width="1.9"/><circle cx="4.4" cy="12.1" r="2.75" stroke-width="1.9"/><circle cx="12.6" cy="12.1" r="2.75" stroke-width="1.9"/><circle cx="21.1" cy="12.1" r="2.75" stroke-width="1.9"/><circle cx="4.4" cy="20.6" r="2.75" stroke-width="1.9"/><circle cx="12.6" cy="20.6" r="2.75" stroke-width="1.9"/><circle cx="21.1" cy="20.6" r="2.75" stroke-width="1.9"/></svg>
<svg style="left:337.6px;top:575.8px;overflow:visible" width="20.0" height="20.0" viewBox="0 0 24 24" fill="none" stroke="#b4b4db" stroke-width="2.45" stroke-linecap="round" stroke-linejoin="round"><rect x="3" y="2.6" width="19.3" height="18.9" rx="2.6"/><path d="M3 8.6H22.3"/><rect x="6.9" y="5.1" width="1.8" height="1.8" fill="#b4b4db" stroke="none"/><rect x="11.7" y="5.1" width="1.8" height="1.8" fill="#b4b4db" stroke="none"/></svg>
<svg style="left:337.6px;top:624.8px;overflow:visible" width="20.0" height="20.0" viewBox="0 0 24 24" fill="none" stroke="#b4b4db" stroke-width="2.45" stroke-linecap="round" stroke-linejoin="round"><path d="M12.6 0.8A10.9 10.9 0 1 1 7.6 21.3L1.6 23L3.2 17.4A10.9 10.9 0 0 1 12.6 0.8Z" stroke-width="2.2"/><rect x="6.9" y="10.7" width="1.9" height="1.9" fill="#b4b4db" stroke="none"/><rect x="11.7" y="10.7" width="1.9" height="1.9" fill="#b4b4db" stroke="none"/><rect x="16.7" y="10.7" width="1.9" height="1.9" fill="#b4b4db" stroke="none"/></svg>
<svg style="left:337.6px;top:673.8px;overflow:visible" width="20.0" height="20.0" viewBox="0 0 24 24" fill="none" stroke="#b4b4db" stroke-width="2.45" stroke-linecap="round" stroke-linejoin="round"><path d="M2.9 5.3L7.9 3.4L12.8 4.8L17.5 3.4L22.4 5.3V20.9L17.5 19.3L12.8 21.1L7.9 19.3L2.9 20.9Z"/><path d="M7.9 3.4V19.3M12.8 4.8V21.1M17.5 3.4V19.3"/></svg>
<svg style="left:337.6px;top:722.8px;overflow:visible" width="20.0" height="20.0" viewBox="0 0 24 24" fill="none" stroke="#b4b4db" stroke-width="2.45" stroke-linecap="round" stroke-linejoin="round"><path d="M21.4 14.8A10.1 10.1 0 1 1 9.3 2.6"/><path d="M13.4 1.6V10.6H22.4A9 9 0 0 0 13.4 1.6Z"/></svg>
<svg style="left:337.6px;top:771.8px;overflow:visible" width="20.0" height="20.0" viewBox="0 0 24 24" fill="none" stroke="#b4b4db" stroke-width="2.45" stroke-linecap="round" stroke-linejoin="round"><path d="M3.6 7V3.6H20.4V7M12 3.6V20.4M8.4 20.4H15.6"/></svg>
<svg style="left:337.6px;top:820.8px;overflow:visible" width="20.0" height="20.0" viewBox="0 0 24 24" fill="none" stroke="#b4b4db" stroke-width="2.45" stroke-linecap="round" stroke-linejoin="round"><rect x="2.8" y="2.8" width="7.8" height="7.8" rx="1.6"/><rect x="14.4" y="2.8" width="7.8" height="7.8" rx="1.6"/><rect x="2.8" y="14.4" width="7.8" height="7.8" rx="1.6"/><rect x="14.4" y="14.4" width="7.8" height="7.8" rx="1.6"/></svg>
<svg style="left:337.6px;top:869.8px;overflow:visible" width="20.0" height="20.0" viewBox="0 0 24 24" fill="none" stroke="#b4b4db" stroke-width="2.45" stroke-linecap="round" stroke-linejoin="round"><path d="M2.8 6.6H6.4Q9.2 6.6 12 12Q14.8 17.4 17.6 17.4H20.8M2.8 17.4H6.4Q9.2 17.4 12 12Q14.8 6.6 17.6 6.6H20.8"/><path d="M18.2 3.8L21 6.6L18.2 9.4M18.2 14.6L21 17.4L18.2 20.2"/></svg>
<svg style="left:337.6px;top:918.8px;overflow:visible" width="20.0" height="20.0" viewBox="0 0 24 24" fill="none" stroke="#b4b4db" stroke-width="2.45" stroke-linecap="round" stroke-linejoin="round"><rect x="4.4" y="9.8" width="16.7" height="12.6" rx="2.4"/><path d="M8.6 9.8V6.2A4.1 4.1 0 0 1 16.8 6.2V9.8"/><circle cx="12.7" cy="16.1" r="1.9" stroke-width="2"/></svg>
<svg style="left:0;top:0" width="2084" height="1267" fill="none" stroke-linecap="round" stroke-linejoin="round"><path d="M552.00 435.55 L548.00 439.25 L552.00 442.95" stroke="#b4b4db" stroke-width="2.00"/><path d="M552.00 484.55 L548.00 488.25 L552.00 491.95" stroke="#b4b4db" stroke-width="2.00"/><path d="M552.00 533.55 L548.00 537.25 L552.00 540.95" stroke="#b4b4db" stroke-width="2.00"/><path d="M552.00 582.55 L548.00 586.25 L552.00 589.95" stroke="#b4b4db" stroke-width="2.00"/><path d="M552.00 631.55 L548.00 635.25 L552.00 638.95" stroke="#b4b4db" stroke-width="2.00"/><path d="M552.00 680.55 L548.00 684.25 L552.00 687.95" stroke="#b4b4db" stroke-width="2.00"/><path d="M552.00 729.55 L548.00 733.25 L552.00 736.95" stroke="#b4b4db" stroke-width="2.00"/><path d="M552.00 778.55 L548.00 782.25 L552.00 785.95" stroke="#b4b4db" stroke-width="2.00"/><path d="M552.00 827.55 L548.00 831.25 L552.00 834.95" stroke="#b4b4db" stroke-width="2.00"/><path d="M552.00 876.55 L548.00 880.25 L552.00 883.95" stroke="#b4b4db" stroke-width="2.00"/><path d="M552.00 925.55 L548.00 929.25 L552.00 932.95" stroke="#b4b4db" stroke-width="2.00"/><path d="M797.20 290.60 L801.80 294.60 L797.20 298.60" stroke="#ffffff" stroke-width="1.90"/><path d="M1033.20 290.30 L1037.20 294.30 L1033.20 298.30" stroke="#ffffff" stroke-width="1.90"/><path d="M655.00 192.20 L658.30 195.60 L661.60 192.20" stroke="#ffffff" stroke-width="1.70"/><path d="M946.80 294.40 L950.30 297.90 L953.80 294.40" stroke="#ffffff" stroke-width="1.70"/><path d="M1641.40 461.30 L1644.90 464.80 L1648.40 461.30" stroke="#ffffff" stroke-width="1.70"/><path d="M970.80 539.60 L974.40 543.20 L978.00 539.60" stroke="#ffffff" stroke-width="1.70"/><path d="M1021.30 542.40 L1025.50 537.20 L1029.70 542.40" stroke="#ffffff" stroke-width="1.90"/><path d="M345.2 188.35H363.6M349.6 194.15H363.6M345.2 200.07H363.6" stroke="#b4b4db" stroke-width="2.4"/><circle cx="345.1" cy="194.15" r="1.25" fill="#b4b4db"/><circle cx="1416.2" cy="193.4" r="7.2" stroke="#b4b4db" stroke-width="2.1"/><path d="M1421.6 198.8L1425.4 202.6" stroke="#b4b4db" stroke-width="2.1"/><rect x="1472.6" y="186.8" width="19" height="15" rx="2" stroke="#b4b4db" stroke-width="2.1"/><path d="M1473.8 189L1482.1 195.2L1490.4 189" stroke="#b4b4db" stroke-width="2.1"/><path d="M1539 198.6Q1541.4 197 1541.4 193V190.8A5.4 5.4 0 0 1 1552.2 190.8V193Q1552.2 197 1554.6 198.6Z" stroke="#b4b4db" stroke-width="2.1"/><path d="M1544.6 200.6A2.2 2.2 0 0 0 1549 200.6" stroke="#b4b4db" stroke-width="2.1"/></svg>
<svg style="left:0;top:0" width="2084" height="1267"><rect x="641.0" y="329.2" width="15.2" height="15.0" rx="2.5" fill="#a16eff"/><rect x="736.0" y="329.2" width="15.2" height="15.0" rx="2.5" fill="#00d68f"/><rect x="1150.0" y="455.6" width="15.2" height="15.2" rx="2.5" fill="#00d68f"/><rect x="1254.5" y="455.6" width="15.2" height="15.2" rx="2.5" fill="#a16eff"/><rect x="1361.6" y="455.6" width="15.2" height="15.2" rx="2.5" fill="#252547"/><path d="M1000.2 353.6 L1004.5 347.7 L1008.8 353.6 Z" fill="#00d68f" stroke="#00d68f" stroke-width="1.6" stroke-linejoin="round"/><path d="M836.7 594.8 L841.0 600.7 L845.3 594.8 Z" fill="#ff3d71" stroke="#ff3d71" stroke-width="1.6" stroke-linejoin="round"/><path d="M836.7 653.2 L841.0 647.3 L845.3 653.2 Z" fill="#00d68f" stroke="#00d68f" stroke-width="1.6" stroke-linejoin="round"/><path d="M836.7 700.8 L841.0 706.7 L845.3 700.8 Z" fill="#ff3d71" stroke="#ff3d71" stroke-width="1.6" stroke-linejoin="round"/><path d="M836.7 759.2 L841.0 753.3 L845.3 759.2 Z" fill="#00d68f" stroke="#00d68f" stroke-width="1.6" stroke-linejoin="round"/><path d="M836.7 806.8 L841.0 812.7 L845.3 806.8 Z" fill="#ff3d71" stroke="#ff3d71" stroke-width="1.6" stroke-linejoin="round"/><rect x="968.6" y="595.4" width="11.6" height="8.5" rx="0" fill="#1b1b38"/><rect x="987.9" y="598.2" width="11.4" height="5.7" rx="0" fill="#ff3d71"/><rect x="968.6" y="651.3" width="11.6" height="5.7" rx="0" fill="#1b1b38"/><rect x="987.9" y="645.0" width="11.4" height="12.0" rx="0" fill="#00d68f"/><rect x="968.6" y="698.2" width="11.6" height="11.4" rx="0" fill="#1b1b38"/><rect x="987.9" y="748.5" width="11.4" height="14.5" rx="0" fill="#00d68f"/><rect x="968.6" y="801.4" width="11.6" height="14.8" rx="0" fill="#1b1b38"/><rect x="987.9" y="811.3" width="11.4" height="4.9" rx="0" fill="#ff3d71"/></svg>
<svg style="left:1600px;top:174px" width="40" height="40" viewBox="-20 -20 40 40"><defs><clipPath id="avc"><circle cx="0" cy="0" r="18.6"/></clipPath></defs><g clip-path="url(#avc)"><rect x="-20" y="-20" width="40" height="40" fill="#f4f5f8"/><rect x="13" y="-9" width="8" height="26" fill="#6aa0d0"/><path d="M-14 20 L-12 9 Q-8 5 -3 6 L4 6 Q9 4 12 8 L15 20 Z" fill="#2e3344"/><path d="M-6 20 L-5 10 Q0 13 5 10 L7 20 Z" fill="#3cb0e6"/><path d="M6 -1 Q11 -4 15 1 L14 4 Q10 0 7 2 Z" fill="#1c2030"/><ellipse cx="-0.5" cy="-3.8" rx="7.2" ry="8.6" fill="#b57654"/><path d="M-8.6 -6 Q-9.5 -16.5 -0.6 -16.6 Q7.8 -16.4 7 -6.5 Q5.8 -12 -1 -12 Q-7.6 -12 -8.6 -6 Z" fill="#1e1a1c"/><path d="M-3.6 0.6 Q-0.5 2.6 2.6 0.6 Q-0.5 3.6 -3.6 0.6Z" fill="#fff"/></g><circle cx="0" cy="0" r="18.8" fill="none" stroke="#1b1b38" stroke-width="1.2"/></svg>
<span class="t" style="top:182.45px;font-size:29.0px;color:#ffffff;letter-spacing:0.700px;left:407.80px;">ngx-admin</span>
<span class="t" style="top:188.00px;font-size:13.7px;color:#ffffff;-webkit-text-stroke:0.49px #ffffff;letter-spacing:-0.280px;left:595.60px;">Cosmic</span>
<span class="t" style="top:188.36px;font-size:16.0px;color:#ffffff;letter-spacing:-0.667px;left:1647.30px;">Nick Jones</span>
<span class="t" style="top:286.04px;font-size:13.3px;color:#a16eff;-webkit-text-stroke:0.48px #a16eff;letter-spacing:0.078px;left:368.60px;">E-commerce</span>
<span class="t" style="top:335.04px;font-size:13.3px;color:#ffffff;-webkit-text-stroke:0.48px #ffffff;letter-spacing:0.275px;left:367.60px;">IoT Dashboard</span>
<span class="t" style="top:383.84px;font-size:13.3px;color:#b4b4db;letter-spacing:-0.700px;transform:scaleX(0.9548);transform-origin:0 0;left:335.80px;">FEATURES</span>
<span class="t" style="top:432.74px;font-size:13.3px;color:#ffffff;-webkit-text-stroke:0.48px #ffffff;letter-spacing:0.200px;left:368.60px;">Layout</span>
<span class="t" style="top:481.74px;font-size:13.3px;color:#ffffff;-webkit-text-stroke:0.48px #ffffff;letter-spacing:0.100px;left:368.60px;">Forms</span>
<span class="t" style="top:530.74px;font-size:13.3px;color:#ffffff;-webkit-text-stroke:0.48px #ffffff;letter-spacing:0.080px;left:368.60px;">UI Features</span>
<span class="t" style="top:579.74px;font-size:13.3px;color:#ffffff;-webkit-text-stroke:0.48px #ffffff;letter-spacing:0.293px;left:368.60px;">Modal &amp; Overlays</span>
<span class="t" style="top:628.74px;font-size:13.3px;color:#ffffff;-webkit-text-stroke:0.48px #ffffff;letter-spacing:0.360px;left:368.60px;">Extra Components</span>
<span class="t" style="top:677.74px;font-size:13.3px;color:#ffffff;-webkit-text-stroke:0.48px #ffffff;letter-spacing:0.033px;left:368.60px;">Maps</span>
<span class="t" style="top:726.74px;font-size:13.3px;color:#ffffff;-webkit-text-stroke:0.48px #ffffff;letter-spacing:0.160px;left:368.60px;">Charts</span>
<span class="t" style="top:775.74px;font-size:13.3px;color:#ffffff;-webkit-text-stroke:0.48px #ffffff;letter-spacing:0.150px;left:368.60px;">Editors</span>
<span class="t" style="top:824.74px;font-size:13.3px;color:#ffffff;-webkit-text-stroke:0.48px #ffffff;letter-spacing:0.142px;left:368.60px;">Tables &amp; Data</span>
<span class="t" style="top:873.74px;font-size:13.3px;color:#ffffff;-webkit-text-stroke:0.48px #ffffff;letter-spacing:0.325px;left:368.60px;">Miscellaneous</span>
<span class="t" style="top:922.74px;font-size:13.3px;color:#ffffff;-webkit-text-stroke:0.48px #ffffff;letter-spacing:0.600px;left:368.60px;">Auth</span>
<span class="t" style="top:290.18px;font-size:15.5px;color:#ffffff;-webkit-text-stroke:0.56px #ffffff;left:631.60px;">$</span>
<span class="t" style="top:290.18px;font-size:15.5px;color:#ffffff;-webkit-text-stroke:0.56px #ffffff;letter-spacing:0.600px;left:649.00px;">Profit</span>
<span class="t" style="top:330.44px;font-size:12.0px;color:#e6e6f0;letter-spacing:-0.055px;left:661.30px;">transactions</span>
<span class="t" style="top:330.44px;font-size:12.0px;color:#e6e6f0;letter-spacing:-0.020px;left:755.60px;">orders</span>
<span class="t" style="top:289.57px;font-size:13.5px;color:#ffffff;-webkit-text-stroke:0.49px #ffffff;letter-spacing:0.367px;left:888.40px;">Bitcoin</span>
<span class="t" style="top:344.35px;font-size:15.3px;color:#e4e4ee;letter-spacing:0.182px;left:864.30px;">Daily Income</span>
<span class="t" style="top:365.71px;font-size:17.0px;color:#ffffff;font-weight:700;letter-spacing:0.660px;left:865.30px;">45,895</span>
<span class="t" style="top:345.25px;font-size:15.3px;color:#e4e4ee;letter-spacing:-0.700px;transform:scaleX(0.9531);transform-origin:0 0;left:1018.70px;">4%</span>
<span class="t" style="top:289.08px;font-size:14.2px;color:#a16eff;-webkit-text-stroke:0.85px #a16eff;letter-spacing:-0.700px;transform:scaleX(0.9565);transform-origin:0 0;left:1218.00px;">ORDERS</span>
<span class="t" style="top:289.08px;font-size:14.2px;color:#b4b4db;-webkit-text-stroke:0.85px #b4b4db;letter-spacing:-0.700px;transform:scaleX(0.9919);transform-origin:0 0;left:1537.30px;">PROFIT</span>
<span class="t" style="top:352.70px;font-size:16.3px;color:#ffffff;letter-spacing:-0.210px;left:1149.00px;">Marketplace</span>
<span class="t" style="top:375.13px;font-size:17.8px;color:#ffffff;font-weight:700;letter-spacing:0.200px;left:1150.00px;">3654</span>
<span class="t" style="top:352.70px;font-size:16.3px;color:#ffffff;letter-spacing:-0.100px;left:1310.90px;">Last Month</span>
<span class="t" style="top:375.13px;font-size:17.8px;color:#ffffff;font-weight:700;letter-spacing:0.550px;left:1311.90px;">946</span>
<span class="t" style="top:352.70px;font-size:16.3px;color:#ffffff;letter-spacing:-0.700px;left:1465.00px;">Last Week</span>
<span class="t" style="top:375.13px;font-size:17.8px;color:#ffffff;font-weight:700;left:1466.00px;">654</span>
<span class="t" style="top:352.70px;font-size:16.3px;color:#ffffff;letter-spacing:-0.475px;left:1612.40px;">Today</span>
<span class="t" style="top:375.13px;font-size:17.8px;color:#ffffff;font-weight:700;letter-spacing:0.700px;left:1612.40px;">230</span>
<span class="t" style="top:455.60px;font-size:16.3px;color:#ffffff;letter-spacing:-0.500px;left:1176.00px;">Payment</span>
<span class="t" style="top:455.60px;font-size:16.3px;color:#ffffff;letter-spacing:-0.529px;left:1280.50px;">Canceled</span>
<span class="t" style="top:455.60px;font-size:16.3px;color:#ffffff;letter-spacing:-0.278px;left:1388.50px;">All orders</span>
<span class="t" style="top:456.90px;font-size:14.3px;color:#ffffff;-webkit-text-stroke:0.51px #ffffff;letter-spacing:-0.600px;left:1586.50px;">week</span>
<span class="t" style="top:535.30px;font-size:16.3px;color:#ffffff;-webkit-text-stroke:0.59px #ffffff;letter-spacing:-0.017px;left:632.70px;">Traffic</span>
<span class="t" style="top:535.40px;font-size:14.3px;color:#ffffff;-webkit-text-stroke:0.51px #ffffff;letter-spacing:-0.700px;transform:scaleX(0.9848);transform-origin:0 0;left:915.90px;">week</span>
<span class="t" style="top:904.90px;font-size:16.3px;color:#ffffff;-webkit-text-stroke:0.59px #ffffff;letter-spacing:-0.038px;left:632.20px;">Country Orders Statistics</span>
<span class="t" style="top:960.87px;font-size:13.5px;color:#b4b4db;letter-spacing:-0.541px;left:1140.80px;">Selected Country/Region</span>
<span class="t" style="top:980.24px;font-size:25.7px;color:#ffffff;font-weight:700;letter-spacing:0.893px;left:1140.80px;">United States of</span>
<span class="t" style="top:1012.64px;font-size:25.7px;color:#ffffff;font-weight:700;letter-spacing:0.667px;left:1141.30px;">America</span>
<span class="t" style="top:903.70px;font-size:16.3px;color:#ffffff;-webkit-text-stroke:0.59px #ffffff;letter-spacing:-0.031px;left:1484.70px;">Today’s Profit</span>
<span class="t" style="top:927.00px;font-size:30.0px;color:#ffffff;font-weight:700;letter-spacing:0.550px;left:1483.70px;">572,900</span>
<span class="t" style="top:1001.67px;font-size:13.5px;color:#b4b4db;letter-spacing:-0.485px;left:1483.70px;">Better than last week (70%)</span>
<span class="t" style="top:503.56px;font-size:16.0px;color:#b4b4db;right:946.5px;">400</span>
<span class="t" style="top:573.91px;font-size:16.0px;color:#b4b4db;right:946.5px;">300</span>
<span class="t" style="top:644.26px;font-size:16.0px;color:#b4b4db;right:946.5px;">200</span>
<span class="t" style="top:714.61px;font-size:16.0px;color:#b4b4db;right:946.5px;">100</span>
<span class="t" style="top:784.96px;font-size:16.0px;color:#b4b4db;right:946.5px;">0</span>
<div class="t" style="top:806.26px;font-size:16.0px;color:#b4b4db;left:1145.3px;width:0;display:flex;justify-content:center;"><span style="position:static">Mon</span></div>
<div class="t" style="top:806.26px;font-size:16.0px;color:#b4b4db;left:1226.0px;width:0;display:flex;justify-content:center;"><span style="position:static">Tue</span></div>
<div class="t" style="top:806.26px;font-size:16.0px;color:#b4b4db;left:1307.2px;width:0;display:flex;justify-content:center;"><span style="position:static">Wed</span></div>
<div class="t" style="top:806.26px;font-size:16.0px;color:#b4b4db;left:1387.8px;width:0;display:flex;justify-content:center;"><span style="position:static">Thu</span></div>
<div class="t" style="top:806.26px;font-size:16.0px;color:#b4b4db;left:1468.7px;width:0;display:flex;justify-content:center;"><span style="position:static">Fri</span></div>
<div class="t" style="top:806.26px;font-size:16.0px;color:#b4b4db;left:1550.0px;width:0;display:flex;justify-content:center;"><span style="position:static">Sat</span></div>
<div class="t" style="top:806.26px;font-size:16.0px;color:#b4b4db;left:1630.6px;width:0;display:flex;justify-content:center;"><span style="position:static">Sun</span></div>
<span class="t" style="top:589.80px;font-size:16.3px;color:#ffffff;left:627.40px;">Mon</span>
<span class="t" style="top:589.80px;font-size:16.3px;color:#ffffff;left:728.90px;">173</span>
<span class="t" style="top:589.80px;font-size:16.3px;color:#ff3d71;letter-spacing:-0.700px;transform:scaleX(0.9797);transform-origin:0 0;left:850.50px;">14%</span>
<span class="t" style="top:592.34px;font-size:13.3px;color:#b4b4db;left:932.00px;">Sun</span>
<span class="t" style="top:592.34px;font-size:13.3px;color:#b4b4db;left:1008.20px;">Mon</span>
<span class="t" style="top:642.80px;font-size:16.3px;color:#ffffff;left:628.40px;">Tue</span>
<span class="t" style="top:642.80px;font-size:16.3px;color:#ffffff;left:729.90px;">604</span>
<span class="t" style="top:642.80px;font-size:16.3px;color:#00d68f;letter-spacing:-0.700px;transform:scaleX(0.9477);transform-origin:0 0;left:851.50px;">31%</span>
<span class="t" style="top:645.34px;font-size:13.3px;color:#b4b4db;left:932.00px;">Mon</span>
<span class="t" style="top:645.34px;font-size:13.3px;color:#b4b4db;left:1009.20px;">Tue</span>
<span class="t" style="top:695.80px;font-size:16.3px;color:#ffffff;left:628.40px;">Wed</span>
<span class="t" style="top:695.80px;font-size:16.3px;color:#ffffff;left:728.90px;">54</span>
<span class="t" style="top:695.80px;font-size:16.3px;color:#ff3d71;letter-spacing:-0.700px;transform:scaleX(0.9477);transform-origin:0 0;left:851.50px;">60%</span>
<span class="t" style="top:698.34px;font-size:13.3px;color:#b4b4db;left:933.00px;">Tue</span>
<span class="t" style="top:698.34px;font-size:13.3px;color:#b4b4db;left:1009.20px;">Wed</span>
<span class="t" style="top:748.80px;font-size:16.3px;color:#ffffff;left:628.40px;">Thu</span>
<span class="t" style="top:748.80px;font-size:16.3px;color:#ffffff;left:729.90px;">678</span>
<span class="t" style="top:748.80px;font-size:16.3px;color:#00d68f;letter-spacing:-0.700px;transform:scaleX(0.9477);transform-origin:0 0;left:851.50px;">73%</span>
<span class="t" style="top:751.34px;font-size:13.3px;color:#b4b4db;left:933.00px;">Wed</span>
<span class="t" style="top:751.34px;font-size:13.3px;color:#b4b4db;left:1009.20px;">Thu</span>
<span class="t" style="top:801.80px;font-size:16.3px;color:#ffffff;left:627.40px;">Fri</span>
<span class="t" style="top:801.80px;font-size:16.3px;color:#ffffff;left:729.90px;">248</span>
<span class="t" style="top:801.80px;font-size:16.3px;color:#ff3d71;letter-spacing:-0.700px;transform:scaleX(0.9797);transform-origin:0 0;left:850.50px;">54%</span>
<span class="t" style="top:804.34px;font-size:13.3px;color:#b4b4db;left:933.00px;">Thu</span>
<span class="t" style="top:804.34px;font-size:13.3px;color:#b4b4db;left:1008.20px;">Fri</span>
</div></body></html>
